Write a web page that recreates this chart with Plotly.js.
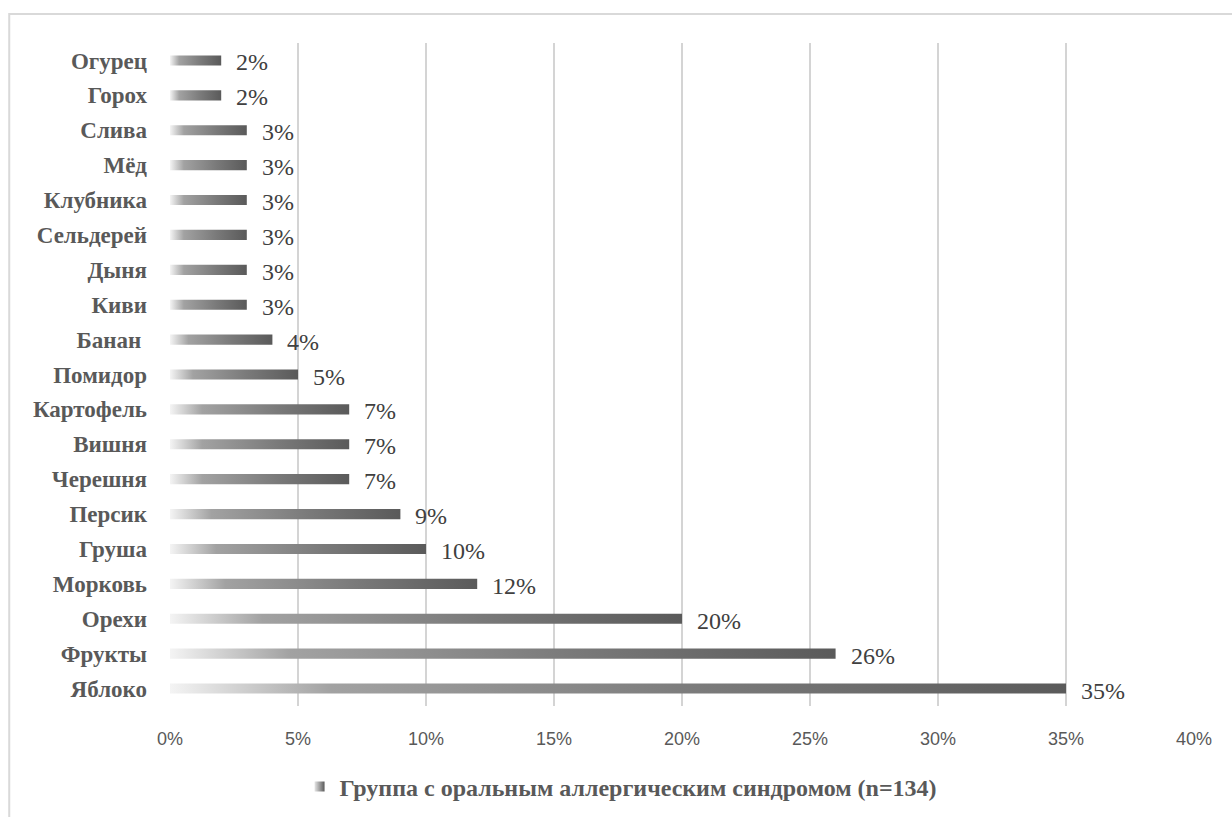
<!DOCTYPE html>
<html>
<head>
<meta charset="utf-8">
<script src="https://cdn.plot.ly/plotly-3.0.1.min.js"></script>
<style>
  html, body { margin: 0; padding: 0; background: #ffffff; }
  #chart { width: 1232px; height: 817px; }
</style>
</head>
<body>
<div id="chart"></div>
<script>
// Products (top to bottom) and share of patients, %
const categories = [
  'Огурец', 'Горох', 'Слива', 'Мёд', 'Клубника', 'Сельдерей', 'Дыня', 'Киви',
  'Банан\u00a0', 'Помидор', 'Картофель', 'Вишня', 'Черешня', 'Персик', 'Груша',
  'Морковь', 'Орехи', 'Фрукты', 'Яблоко'
];
const values = [2, 2, 3, 3, 3, 3, 3, 3, 4, 5, 7, 7, 7, 9, 10, 12, 20, 26, 35];
const xTicks = [0, 5, 10, 15, 20, 25, 30, 35, 40];
const seriesName = 'Группа с оральным аллергическим синдромом (n=134)';

const SERIF = 'Liberation Serif';
const SANS = 'Liberation Sans';

const halfBar = 0.145;
const gradient = [
  [0, '#f4f4f4'],
  [0.18, '#a2a2a2'],
  [0.6, '#7a7a7a'],
  [1, '#5a5a5a']
];

// Each bar is a filled rectangle so it can carry its own horizontal gradient
const traces = values.map((v, i) => ({
  type: 'scatter',
  mode: 'lines',
  x: [0, v, v, 0, 0],
  y: [i - halfBar, i - halfBar, i + halfBar, i + halfBar, i - halfBar],
  fill: 'toself',
  fillgradient: { type: 'horizontal', colorscale: gradient },
  line: { width: 0, color: '#7a7a7a' },
  name: seriesName,
  showlegend: false,
  hoverinfo: 'skip'
}));

// Legend entry: small square swatch with the same light-to-dark gradient
traces.push({
  type: 'scatter',
  mode: 'markers',
  x: [null], y: [null],
  name: seriesName,
  showlegend: true,
  marker: {
    symbol: 'square', size: 10, color: '#e6e6e6',
    gradient: { type: 'horizontal', color: '#5a5a5a' },
    line: { width: 0 }
  },
  hoverinfo: 'skip'
});

// Value labels to the right of each bar
const annotations = values.map((v, i) => ({
  x: v, y: i, xref: 'x', yref: 'y',
  text: v + '%',
  showarrow: false,
  xanchor: 'left', yanchor: 'middle',
  xshift: 13, yshift: -2,
  font: { family: SERIF, size: 24, color: '#404040' }
}));

const layout = {
  width: 1232,
  height: 817,
  paper_bgcolor: '#ffffff',
  plot_bgcolor: '#ffffff',
  margin: { l: 170, r: 38, t: 43, b: 111, autoexpand: false },
  showlegend: true,
  legend: {
    orientation: 'h',
    x: 0.44, xanchor: 'center',
    y: -0.088, yanchor: 'top',
    font: { family: SERIF, size: 24, color: '#595959', weight: 'bold' },
    itemwidth: 30
  },
  xaxis: {
    range: [0, 40],
    tickvals: xTicks,
    ticktext: xTicks.map(t => t + '%'),
    showgrid: true,
    gridcolor: '#d4d4d4',
    gridwidth: 2,
    zeroline: false,
    showline: false,
    ticks: '',
    ticklabelstandoff: 20,
    layer: 'above traces',
    tickfont: { family: SANS, size: 18, color: '#595959' },
    fixedrange: true
  },
  yaxis: {
    range: [categories.length - 0.5, -0.5],
    tickvals: categories.map((c, i) => i),
    ticktext: categories,
    showgrid: false,
    zeroline: false,
    showline: false,
    ticks: '',
    ticklabelstandoff: 22,
    tickfont: { family: SERIF, size: 23, color: '#595959', weight: 'bold' },
    fixedrange: true
  },
  annotations: annotations,
  shapes: [{
    type: 'rect', xref: 'paper', yref: 'paper',
    x0: -0.157, x1: 1.06, y0: -0.2, y1: 1.0437,
    line: { color: '#d9d9d9', width: 2 },
    fillcolor: 'rgba(0,0,0,0)'
  }]
};

Plotly.newPlot('chart', traces, layout, { displayModeBar: false, staticPlot: true });
</script>
</body>
</html>
